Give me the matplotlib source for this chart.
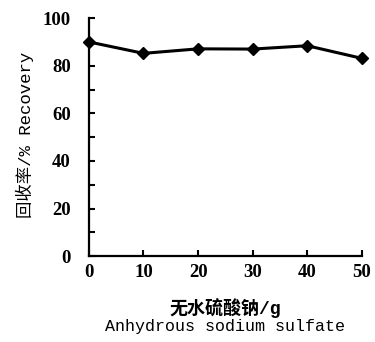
import matplotlib
matplotlib.use("Agg")
import matplotlib.pyplot as plt
from matplotlib.ticker import MultipleLocator

# sodium sulfate amount (g) vs recovery (%)
sulfate = [0, 10, 20, 30, 40, 50]
recovery = [90.0, 85.2, 87.1, 87.0, 88.4, 83.1]
yticks = [0, 20, 40, 60, 80, 100]

fig = plt.figure(figsize=(3.75, 3.42), dpi=100)
ax = fig.add_axes([0.237, 0.251, 0.728, 0.696])

ax.plot(sulfate, recovery, color="black", linewidth=2.2,
        marker="D", markersize=6.5, clip_on=False)

ax.set_xlim(0, 50)
ax.set_ylim(0, 100)
ax.set_xticks(sulfate)
ax.set_yticks(yticks)
ax.yaxis.set_minor_locator(MultipleLocator(10))

for s in ["top", "right"]:
    ax.spines[s].set_visible(False)
for s in ["left", "bottom"]:
    ax.spines[s].set_linewidth(1.6)

ax.tick_params(axis="both", which="both", direction="in", length=4, width=1.5,
               labelsize=13.5)
ax.tick_params(axis="x", pad=6)
ax.tick_params(axis="y", pad=13)
for lab in ax.get_xticklabels() + ax.get_yticklabels():
    lab.set_family("Liberation Serif")
    lab.set_fontweight("bold")

ax.set_xlabel("无水硫酸钠/g", family=["Liberation Mono", "Noto Sans CJK SC"],
              fontsize=13, fontweight="bold", labelpad=12)
fig.text(0.5 * (0.237 + 0.965), 1 - 327 / 342, "Anhydrous sodium sulfate",
         family="Liberation Mono", fontsize=12, ha="center", va="center")
ax.set_ylabel("回收率/% Recovery", family=["Liberation Mono", "Noto Sans CJK SC"],
              fontsize=12.5, va="center")
ax.yaxis.set_label_coords(-64 / 273, 0.51)

fig.savefig("out.png", dpi=100)
